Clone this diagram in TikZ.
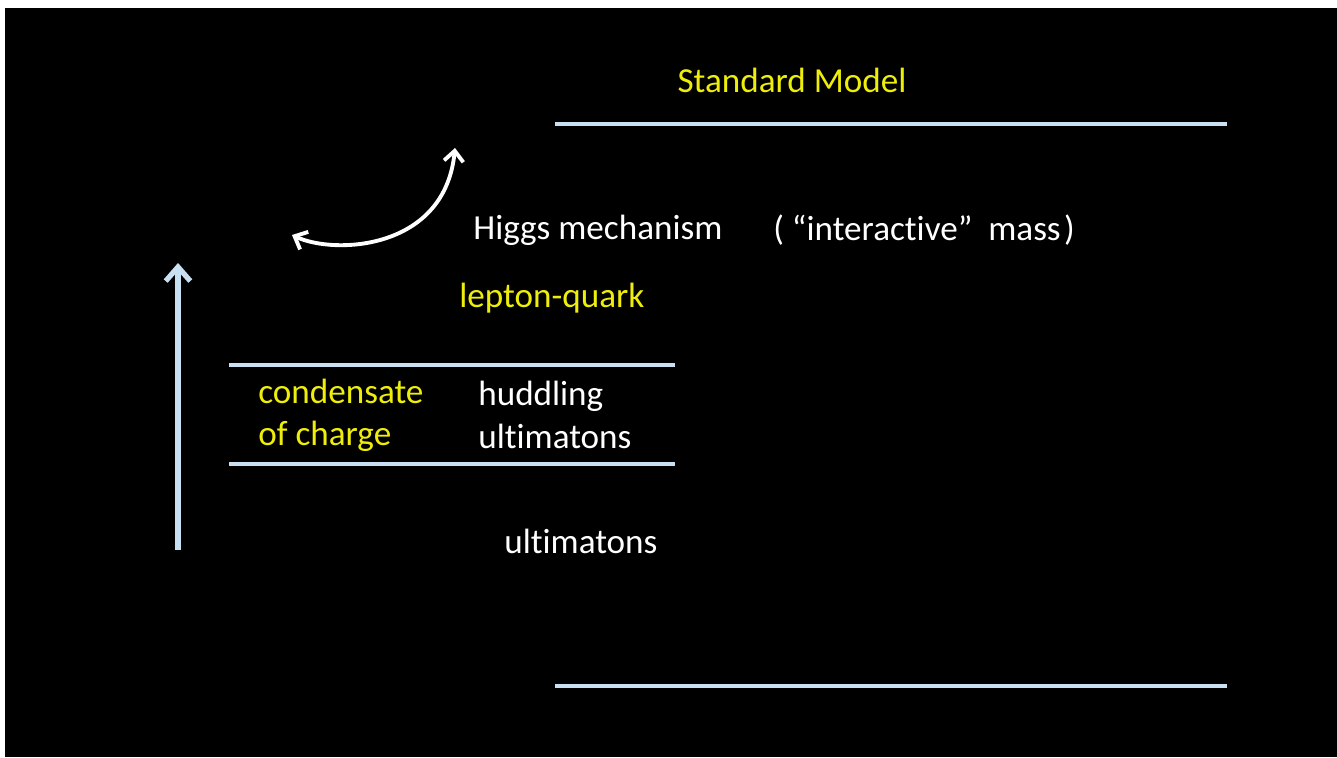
\documentclass[tikz,border=0pt]{standalone}
\usepackage{fontspec}
\setmainfont[Ligatures={NoCommon,NoRequired,NoContextual}]{Carlito}
\usetikzlibrary{arrows.meta}

\definecolor{lineblue}{RGB}{200,225,242}
\definecolor{slideyellow}{RGB}{238,238,10}

\begin{document}
\begin{tikzpicture}[x=0.02cm, y=-0.02cm, >={Straight Barb[length=6pt,width=11pt]},
	txt/.style={white, font=\fontsize{20}{24}\selectfont, inner sep=0pt},
	ytxt/.style={txt, slideyellow},
	level/.style={lineblue, line width=2.2pt}]
	\fill[white] (0, 0) rectangle (1337, 757);
	\fill[black] (5, 8) rectangle (1337, 757);

	\coordinate (SL) at (555, 124);
	\coordinate (SR) at (1227, 124);
	\coordinate (BL) at (555, 686);
	\coordinate (BR) at (1227, 686);
	\coordinate (HL) at (229, 365);
	\coordinate (HR) at (675, 365);
	\coordinate (UL) at (229, 464);
	\coordinate (UR) at (675, 464);
	\coordinate (A0) at (178, 550);
	\coordinate (A1) at (178, 263);
	\coordinate (C0) at (292, 235);
	\coordinate (C1) at (455, 148);

	\draw[level] (SL) -- (SR);
	\draw[level] (BL) -- (BR);
	\draw[level] (HL) -- (HR);
	\draw[level] (UL) -- (UR);

	\draw[{Straight Barb[length=8pt,width=14pt]}-, lineblue, line width=3pt] (A1) -- (A0);
	\draw[<->, white, line width=2.2pt] (C0) .. controls (335, 255) and (445, 250) .. (C1);

	\node[ytxt] (std) at (792, 80) {Standard Model};
	\node[txt, anchor=west] (higgs) at (473, 230) {Higgs mechanism};
	\node[txt, anchor=west] (mass) at (773, 230) {( “interactive”\ \ mass\kern2pt)};
	\node[ytxt, anchor=west] (lq) at (459, 298) {lepton-quark};
	\node[ytxt, anchor=west, align=left] (cond) at (258, 415) {condensate\\of charge};
	\node[txt, anchor=west, align=left] (hudd) at (478, 415) {huddling\\ultimatons};
	\node[txt, anchor=west] (ult) at (504, 541) {ultimatons};
\end{tikzpicture}
\end{document}
